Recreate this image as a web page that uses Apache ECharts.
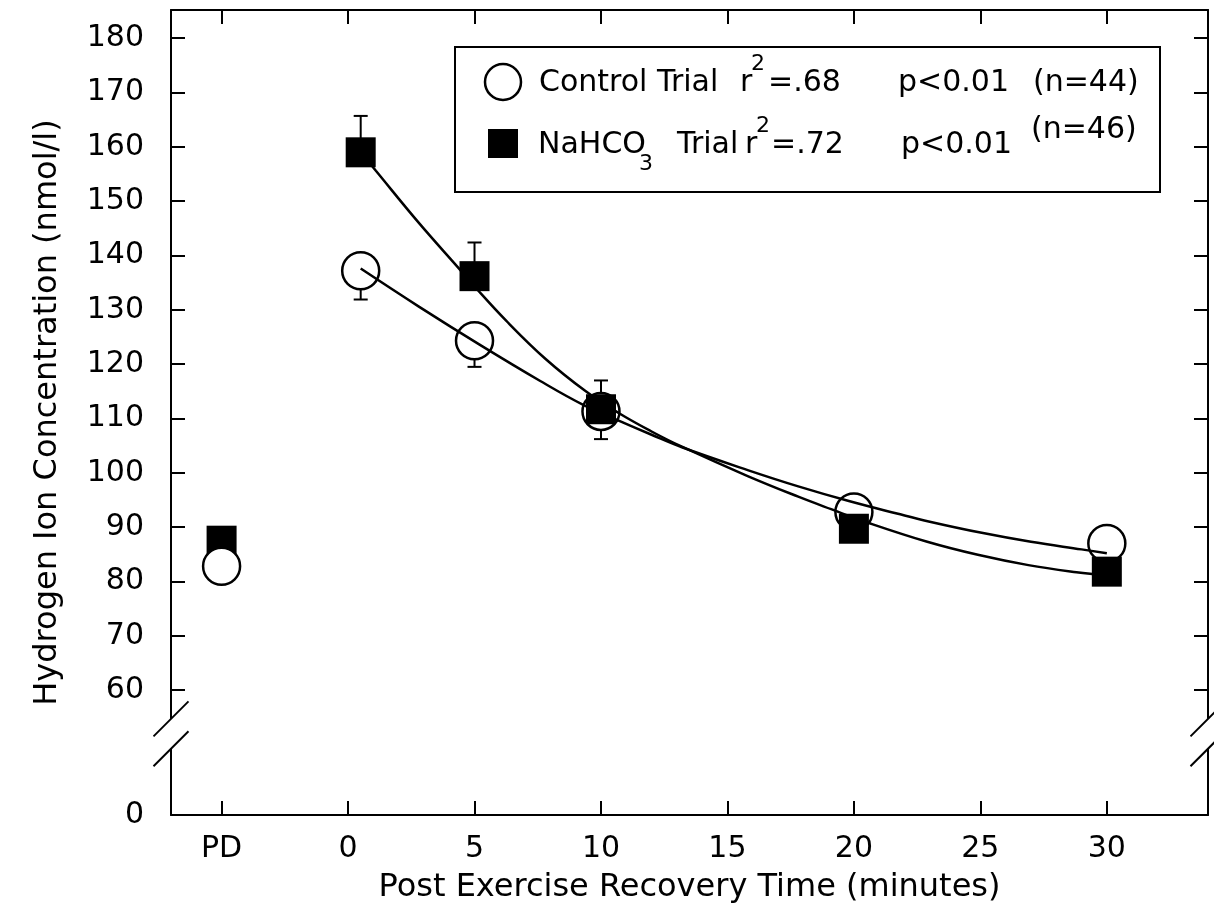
<!DOCTYPE html>
<html>
<head>
<meta charset="utf-8">
<script src="https://cdn.jsdelivr.net/npm/echarts@6/dist/echarts.min.js"></script>
<style>
  html, body { margin: 0; padding: 0; background: #fff; }
  #chart { width: 1214px; height: 906px; }
</style>
</head>
<body>
<div id="chart"></div>
<script>
// sample times (minutes); PD is drawn at -5, the first post value sits just right of 0
const timePoints = [-5, 0.5, 5, 10, 20, 30];
const xTickValues = [-5, 0, 5, 10, 15, 20, 25, 30];
const xTickLabels = ['PD', '0', '5', '10', '15', '20', '25', '30'];
const yTickValues = [60, 70, 80, 90, 100, 110, 120, 130, 140, 150, 160, 170, 180];
// below the axis break the "0" label sits at this axis position
const yZeroAt = 37;
const yLabelValues = [yZeroAt, ...yTickValues];
const yLabelTexts = ['0', ...yTickValues.map(String)];

const controlMean = [82.8, 137.2, 124.3, 111.3, 92.8, 87.0];
const controlErr = [null, 131.9, 119.5, 106.2, null, 89.8];
const nahco3Mean = [87.5, 159.0, 136.2, 111.7, 89.7, 81.8];
const nahco3Err = [null, 165.7, 142.4, 117.0, null, null];

// fitted curves
const controlFitX = [0.5, 2.8, 5.2, 7.6, 9.3, 10.7, 12, 13.2, 15.8, 17.8, 19.8, 21.7, 23, 25, 27, 29, 30];
const controlFitY = [137.6, 130.6, 123.6, 116.9, 112.5, 109.6, 107.0, 104.7, 100.5, 97.5, 94.8, 92.5, 91.0, 89.0, 87.3, 85.9, 85.2];
const nahco3FitX = [0.5, 1.1, 2.8, 4.5, 5.0, 6.25, 7.8, 9.4, 10.7, 12, 13.2, 15.8, 17.8, 19.1, 20.5, 22.9, 24.9, 26.9, 28.8, 30];
const nahco3FitY = [159.0, 155.6, 146.0, 137.0, 134.3, 128.0, 121.0, 115.0, 111.0, 107.6, 104.8, 99.4, 95.6, 93.3, 90.9, 87.3, 84.9, 83.0, 81.7, 81.1];

// axis break marks (axis values where the two slashes cross the axis)
const breakMarks = [54.7, 49.2];

const font = '"DejaVu Sans", sans-serif';
const black = '#000';
const xRange = [-7, 34];
const yRange = [yZeroAt, 185.2];

const chart = echarts.init(document.getElementById('chart'));

const zip = (xs, ys) => xs.map((x, i) => [x, ys[i]]);
const pick = (means, from, to) => timePoints.slice(from, to).map((t, i) => [t, means[i + from]]);
const errData = [];
[[controlMean, controlErr], [nahco3Mean, nahco3Err]].forEach(([m, e]) => {
	timePoints.forEach((t, i) => {
		if (e[i] != null) errData.push([t, m[i], e[i]]);
	});
});

const lineStyle = { color: black, width: 2, opacity: 1 };
const fitStyle = { color: black, width: 2.5, opacity: 1 };
const tickStyle = { inside: true, length: 14, lineStyle };

const circle = { symbol: 'circle', symbolSize: 37, itemStyle: { color: '#fff', borderColor: black, borderWidth: 2.5, opacity: 1 } };
const square = { symbol: 'rect', symbolSize: 30, itemStyle: { color: black, opacity: 1 } };

const option = {
	animation: false,
	backgroundColor: '#fff',
	textStyle: { fontFamily: font, color: black },
	grid: { left: 171, right: 6, top: 10, bottom: 91, outerBoundsMode: 'none' },
	xAxis: [
		{
			type: 'value',
			min: xRange[0],
			max: xRange[1],
			position: 'bottom',
			name: 'Post Exercise Recovery Time (minutes)',
			nameLocation: 'middle',
			nameGap: 57,
			nameTextStyle: { fontSize: 32, color: black, fontFamily: font },
			axisLine: { onZero: false, lineStyle },
			axisTick: { ...tickStyle, customValues: xTickValues },
			axisLabel: {
				customValues: xTickValues,
				formatter: v => xTickLabels[xTickValues.indexOf(v)],
				fontSize: 30,
				color: black,
				fontFamily: font,
				margin: 19,
			},
			splitLine: { show: false },
		},
		{
			type: 'value',
			min: xRange[0],
			max: xRange[1],
			position: 'top',
			axisLine: { onZero: false, lineStyle },
			axisTick: { ...tickStyle, customValues: xTickValues },
			axisLabel: { show: false },
			splitLine: { show: false },
		},
	],
	yAxis: [
		{
			type: 'value',
			min: yRange[0],
			max: yRange[1],
			position: 'left',
			name: 'Hydrogen Ion Concentration (nmol/l)',
			nameLocation: 'middle',
			nameGap: 107,
			nameTextStyle: { fontSize: 32, color: black, fontFamily: font },
			axisLine: { onZero: false, lineStyle },
			axisTick: { ...tickStyle, customValues: yTickValues },
			axisLabel: {
				customValues: yLabelValues,
				formatter: v => yLabelTexts[yLabelValues.indexOf(v)],
				fontSize: 30,
				color: black,
				fontFamily: font,
				margin: 27,
			},
			splitLine: { show: false },
		},
		{
			type: 'value',
			min: yRange[0],
			max: yRange[1],
			position: 'right',
			axisLine: { onZero: false, lineStyle },
			axisTick: { ...tickStyle, customValues: yTickValues },
			axisLabel: { show: false },
			splitLine: { show: false },
		},
	],
	series: [
		{
			type: 'custom',
			silent: true,
			data: errData,
			encode: { x: 0, y: [1, 2] },
			renderItem: (params, api) => {
				const p0 = api.coord([api.value(0), api.value(1)]);
				const p1 = api.coord([api.value(0), api.value(2)]);
				return {
					type: 'group',
					children: [
						{ type: 'line', shape: { x1: p0[0], y1: p0[1], x2: p1[0], y2: p1[1] }, style: { stroke: black, lineWidth: 2 } },
						{ type: 'line', shape: { x1: p1[0] - 7, y1: p1[1], x2: p1[0] + 7, y2: p1[1] }, style: { stroke: black, lineWidth: 2 } },
					],
				};
			},
		},
		{ type: 'scatter', silent: true, data: pick(controlMean, 1), ...circle },
		{ type: 'scatter', silent: true, data: pick(nahco3Mean, 1), ...square },
		{ type: 'scatter', silent: true, data: pick(nahco3Mean, 0, 1), ...square },
		{ type: 'scatter', silent: true, data: pick(controlMean, 0, 1), ...circle },
		{ type: 'line', silent: true, data: zip(controlFitX, controlFitY), smooth: 0.4, showSymbol: false, lineStyle: fitStyle },
		{ type: 'line', silent: true, data: zip(nahco3FitX, nahco3FitY), smooth: 0.4, showSymbol: false, lineStyle: fitStyle },
	],
};

chart.setOption(option);

// legend box, drawn by hand so the superscripts and columns match
const base = { fontFamily: font, fontSize: 30, fill: black, lineHeight: 60 };
const col = w => ({ ...base, width: w });
const sup = w => ({ ...base, width: w, fontSize: 22, lineHeight: 22, verticalAlign: 'top' });
const rich = {
	c1: col(201), r1: col(11), s1: sup(17), e1: col(130), p1: col(135), n1: col(110),
	c2: col(101), b2: { ...base, width: 38, fontSize: 22, lineHeight: 36, verticalAlign: 'bottom' },
	t2: col(68), r2: col(11), s2: sup(15), e2: col(130), p2: col(130),
	n2: { ...base, width: 110, lineHeight: 48, verticalAlign: 'top' },
};
const legendText = (x, y, text) => ({
	type: 'text', x, y, z: 100,
	style: { text, rich, ...base, verticalAlign: 'middle' },
});

const graphic = [
	{ type: 'rect', z: 99, shape: { x: 455, y: 47, width: 705, height: 145 }, style: { fill: '#fff', stroke: black, lineWidth: 2 } },
	{ type: 'circle', z: 100, shape: { cx: 503, cy: 82, r: 18 }, style: { fill: '#fff', stroke: black, lineWidth: 2.5 } },
	{ type: 'rect', z: 100, shape: { x: 488, y: 129, width: 30, height: 29 }, style: { fill: black } },
	legendText(539, 83, '{c1|Control Trial}{r1|r}{s1|2}{e1|=.68}{p1|p<0.01}{n1|(n=44)}'),
	legendText(538, 145, '{c2|NaHCO}{b2|3}{t2|Trial}{r2|r}{s2|2}{e2|=.72}{p2|p<0.01}{n2|(n=46)}'),
];

// axis breaks on both vertical axes
[xRange[0], xRange[1]].forEach(xv => {
	const [ax, yTop] = chart.convertToPixel({ xAxisIndex: 0, yAxisIndex: 0 }, [xv, breakMarks[0]]);
	const [, yBot] = chart.convertToPixel({ xAxisIndex: 0, yAxisIndex: 0 }, [xv, breakMarks[1]]);
	graphic.push({ type: 'rect', z: 100, shape: { x: ax - 3, y: yTop, width: 6, height: yBot - yTop }, style: { fill: '#fff' } });
	[yTop, yBot].forEach(yc => {
		graphic.push({
			type: 'line', z: 101,
			shape: { x1: ax - 17.5, y1: yc + 17.5, x2: ax + 17.5, y2: yc - 17.5 },
			style: { stroke: black, lineWidth: 2 },
		});
	});
});

chart.setOption({ graphic });
</script>
</body>
</html>
